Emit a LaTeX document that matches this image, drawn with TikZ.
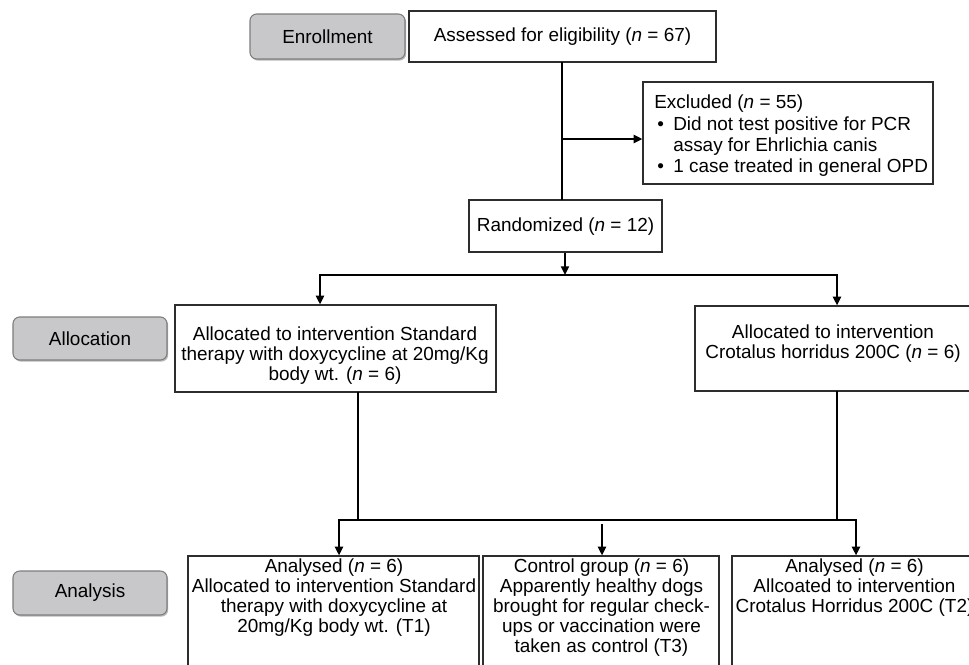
\documentclass[tikz,border=0pt]{standalone}
\usepackage{fontspec}
\setmainfont{Liberation Sans}
\usetikzlibrary{arrows.meta,shadows,fit}
\begin{document}
\begin{tikzpicture}[x=0.75pt,y=-0.75pt,
  font=\fontsize{14.2}{15}\selectfont,
  stage/.style={draw={rgb,255:red,125;green,125;blue,125}, line width=0.8pt, rounded corners=5pt,
    fill={rgb,255:red,200;green,200;blue,202}, inner sep=0pt,
    drop shadow={shadow xshift=0.9pt, shadow yshift=-1.2pt, fill=gray!55, opacity=1}},
  box/.style={draw={rgb,255:red,45;green,45;blue,45}, line width=0.9pt, inner sep=0pt},
  txt/.style={align=center, inner sep=0pt},
  conn/.style={line width=1.5pt, black, line cap=rect},
  arr/.style={line width=1.5pt, black, -{Triangle[length=6.5pt,width=6pt]}},
]
\useasboundingbox (0,0) rectangle (969,664);
\clip (0,0) rectangle (969,664);

% stage labels
\node[stage, fit={(250,14) (405,59)}] (enr) {};
\node[txt] (enrtxt) at (enr.center) {Enrollment};
\node[stage, fit={(13,317) (167,360)}] (alloclab) {};
\node[txt] (alloctxt) at (alloclab.center) {Allocation};
\node[stage, fit={(13,571) (167,615)}] (analab) {};
\node[txt] (anatxt) at (analab.center) {Analysis};

% boxes
\node[box, fit={(409,11) (716,62)}] (assess) {};
\node[txt] (assesstxt) at (562.5,37) {Assessed for eligibility (\textit{n} = 67)};
\node[box, fit={(643,82) (933,184)}] (excl) {};
\node[txt, anchor=west, align=left, font=\fontsize{14.2}{16}\selectfont] (excltxt) at (654,136)
  {Excluded (\textit{n} = 55)\\
   \hspace*{2.25pt}\makebox[12pt][l]{•}Did not test positive for PCR\\
   \hspace*{14.25pt}assay for Ehrlichia canis\\
   \hspace*{2.25pt}\makebox[12pt][l]{•}1 case treated in general OPD};
\node[box, fit={(469,200) (662,252)}] (rand) {};
\node[txt] (randtxt) at (565.5,227) {Randomized (\textit{n} = 12)};

\node[box, fit={(175,305) (496,392)}] (al1) {};
\node[txt] (al1txt) at (335,356) {Allocated to intervention Standard\\therapy with doxycycline at 20mg/Kg\\body wt. (\textit{n} = 6)};
\node[box, fit={(695,306) (985,391)}] (al2) {};
\node[txt] (al2txt) at (833,343.5) {Allocated to intervention\\Crotalus horridus 200C (\textit{n} = 6)};

\node[box, fit={(188,556) (479,690)}] (an1) {};
\node[txt] (an1txt) at (334,598) {Analysed (\textit{n} = 6)\\Allocated to intervention Standard\\therapy with doxycycline at\\20mg/Kg body wt. (T1)};
\node[box, fit={(483,556) (719,690)}] (an2) {};
\node[txt] (an2txt) at (601.5,608) {Control group (\textit{n} = 6)\\Apparently healthy dogs\\brought for regular check-\\ups or vaccination were\\taken as control (T3)};
\node[box, fit={(732,556) (985,690)}] (an3) {};
\node[txt] (an3txt) at (854.5,588) {Analysed (\textit{n} = 6)\\Allcoated to intervention\\Crotalus Horridus 200C (T2)};

% connectors
\coordinate (b1) at (562,139);
\draw[conn] (assess.south -| b1) -- (b1 |- rand.north);
\draw[arr] (b1) -- (b1 -| excl.west);

\coordinate (s1) at (565,275);
\draw[arr] (rand.south -| s1) -- (s1);
\coordinate (l1) at (320,275);
\coordinate (r1) at (837,275);
\draw[conn] (l1) -- (r1);
\draw[arr] (l1) -- (l1 |- al1.north);
\draw[arr] (r1) -- (r1 |- al2.north);

\coordinate (v1) at (358,520);
\coordinate (v2) at (837,520);
\coordinate (l2) at (339,520);
\coordinate (m2) at (602,524);
\coordinate (r2) at (856,520);
\draw[conn] (v1 |- al1.south) -- (v1);
\draw[conn] (v2 |- al2.south) -- (v2);
\draw[conn] (l2) -- (r2);
\draw[arr] (l2) -- (l2 |- an1.north);
\draw[arr] (m2) -- (m2 |- an2.north);
\draw[arr] (r2) -- (r2 |- an3.north);
\end{tikzpicture}
\end{document}
